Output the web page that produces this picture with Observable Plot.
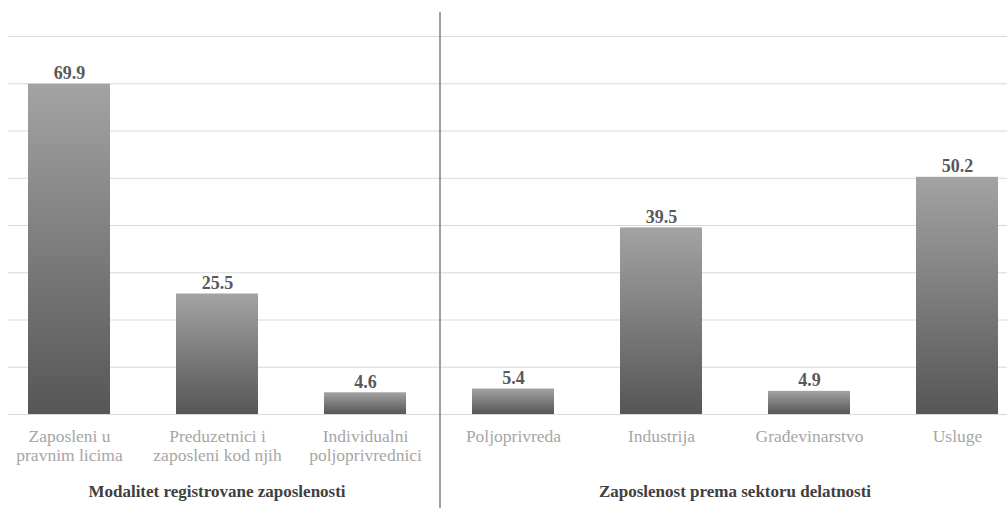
<!DOCTYPE html>
<html>
<head>
<meta charset="utf-8">
<script src="https://cdn.jsdelivr.net/npm/d3@7"></script>
<script src="https://cdn.jsdelivr.net/npm/@observablehq/plot@0.6"></script>
<style>
  html, body { margin: 0; padding: 0; background: #fff; }
  svg { display: block; }
  svg text { font-family: "Liberation Serif", "DejaVu Serif", serif !important; }
</style>
</head>
<body>
<div id="chart"></div>
<script>
const categories = [
  "Zaposleni u\npravnim licima",
  "Preduzetnici i\nzaposleni kod njih",
  "Individualni\npoljoprivrednici",
  "Poljoprivreda",
  "Industrija",
  "Građevinarstvo",
  "Usluge"
];
const values = [69.9, 25.5, 4.6, 5.4, 39.5, 4.9, 50.2];
const groupLabels = ["Modalitet registrovane zaposlenosti", "Zaposlenost prema sektoru delatnosti"];
const groupSizes = [3, 4];
const yTicks = [0, 10, 20, 30, 40, 50, 60, 70, 80];

const data = categories.map((c, i) => ({category: c, value: values[i]}));
const font = "Liberation Serif, DejaVu Serif, serif";

const plot = Plot.plot({
  width: 1007,
  height: 508,
  marginTop: 36,
  marginBottom: 94,
  marginLeft: 8,
  marginRight: 0,
  style: {fontFamily: font, background: "#fff"},
  x: {domain: categories, range: [-5, 1031], padding: 0, axis: null},
  y: {domain: [0, 80], axis: null},
  marks: [
    Plot.ruleY(yTicks, {stroke: "#d9d9d9", strokeWidth: 1.2}),
    Plot.barY(data, {x: "category", y: "value", fill: "url(#barGrad)", insetLeft: 33, insetRight: 33}),
    Plot.text(data, {x: "category", y: "value", text: d => d.value.toFixed(1), lineAnchor: "bottom", dy: -5, fontSize: 18, fontWeight: "bold", fill: "#595959"}),
    Plot.text(data, {x: "category", y: () => 0, text: "category", lineAnchor: "top", dy: 14, fontSize: 17.5, lineHeight: 1.1, fill: "#a6a6a6"})
  ]
});

const svg = d3.select(plot);
const defs = svg.insert("defs", ":first-child");
const grad = defs.append("linearGradient").attr("id", "barGrad").attr("x1", 0).attr("y1", 0).attr("x2", 0).attr("y2", 1);
grad.append("stop").attr("offset", "0%").attr("stop-color", "#a3a3a3");
grad.append("stop").attr("offset", "100%").attr("stop-color", "#565656");

const xs = plot.scale("x");
const bw = xs.bandwidth;
const ys = plot.scale("y");
const base = ys.apply(0);
let start = 0;
groupLabels.forEach((g, gi) => {
  const first = xs.apply(categories[start]);
  const last = xs.apply(categories[start + groupSizes[gi] - 1]) + bw;
  svg.append("text")
    .attr("x", (first + last) / 2)
    .attr("y", base + 83)
    .attr("text-anchor", "middle")
    .attr("font-size", 17)
    .attr("font-weight", "bold")
    .attr("fill", "#404040")
    .text(g);
  if (gi < groupLabels.length - 1) {
    svg.append("line")
      .attr("x1", last + 1).attr("x2", last + 1)
      .attr("y1", ys.apply(80) - 24).attr("y2", 508)
      .attr("stroke", "#7f7f7f").attr("stroke-width", 1.5);
  }
  start += groupSizes[gi];
});

document.getElementById("chart").appendChild(plot);
</script>
</body>
</html>
